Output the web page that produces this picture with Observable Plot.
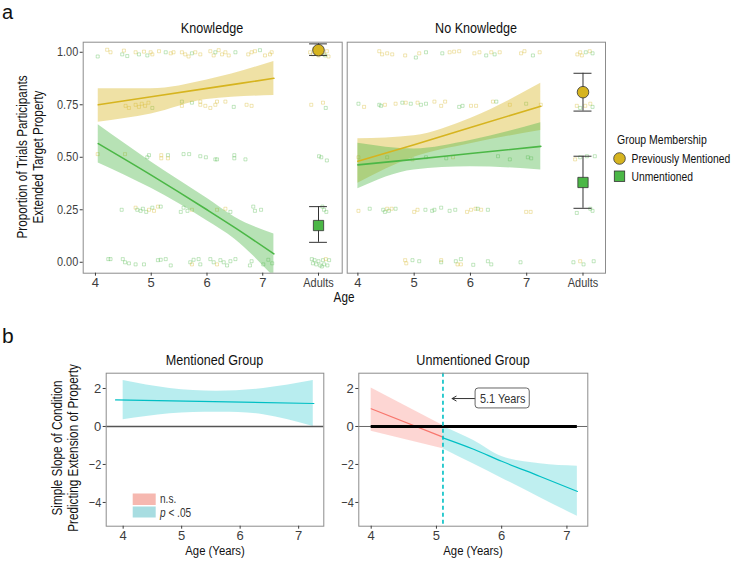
<!DOCTYPE html>
<html><head><meta charset="utf-8">
<script src="https://cdn.jsdelivr.net/npm/d3@7"></script>
<script src="https://cdn.jsdelivr.net/npm/@observablehq/plot@0.6"></script>
<style>
body{margin:0;background:#fff;}
#chart{position:relative;width:735px;height:561px;overflow:hidden;font-family:"Liberation Sans",Arial,sans-serif;}
.panel{position:absolute;}
.panel svg{overflow:visible;}
#overlay{position:absolute;left:0;top:0;pointer-events:none;}
</style></head><body><div id="chart"></div>
<script>
// ---------- data ----------
const conditions = ["Knowledge", "No Knowledge"];
const groupCodes = ["M", "U"];
const groupNames = ["Previously Mentioned", "Unmentioned"];
const ageTicks = [4, 5, 6, 7, 8];
const ageTickLabels = ["4", "5", "6", "7", "Adults"];
const adultPosition = 8;
const propTicks = [0, 0.25, 0.5, 0.75, 1];
const propTickLabels = ["0.00", "0.25", "0.50", "0.75", "1.00"];

// individual trial proportions (age, proportion incl. jitter, group)
const knowledgeTrials = [
[4.04,0.98,"U"],[4.21,1.012,"M"],[4.27,1.0,"M"],[4.48,0.99,"U"],[4.51,1.008,"M"],[4.57,0.982,"U"],[4.72,1.0,"M"],[4.78,0.99,"U"],[4.87,1.003,"M"],[4.93,0.985,"U"],[4.99,1.0,"M"],[5.02,0.99,"M"],[5.14,1.005,"M"],[5.26,1.0,"U"],[5.35,0.995,"M"],[5.40,1.0,"M"],[5.55,1.0,"M"],[5.61,0.99,"M"],[5.67,0.98,"M"],[5.73,0.995,"U"],[5.79,1.0,"M"],[5.88,0.99,"M"],[6.06,1.005,"M"],[6.12,0.985,"M"],[6.15,1.0,"U"],[6.21,1.01,"M"],[6.27,0.99,"M"],[6.33,1.0,"M"],[6.39,0.985,"M"],[6.51,1.0,"U"],[6.74,0.99,"M"],[6.80,1.0,"M"],[6.86,1.005,"M"],[6.95,1.01,"U"],[7.04,0.985,"M"],[7.13,0.99,"M"],[7.16,1.0,"M"],
[7.85,1.0,"M"],[7.9,0.99,"M"],[7.92,1.015,"M"],[7.95,1.005,"M"],[8.0,0.985,"M"],[8.05,1.0,"M"],[8.1,0.99,"M"],[8.12,0.985,"U"],[8.15,1.005,"M"],[8.18,0.98,"M"],
[4.54,0.745,"M"],[4.60,0.735,"M"],[4.72,0.75,"M"],[4.78,0.74,"M"],[4.83,0.755,"M"],[4.89,0.745,"M"],[4.95,0.76,"M"],[5.02,0.735,"U"],[5.55,0.765,"U"],[5.55,0.745,"M"],[5.73,0.76,"U"],[5.88,0.765,"M"],[5.88,0.75,"M"],[5.97,0.745,"M"],[6.06,0.735,"M"],[6.15,0.75,"M"],[6.18,0.765,"M"],[6.33,0.765,"M"],[6.48,0.74,"U"],[6.71,0.75,"M"],[6.80,0.745,"M"],[7.87,0.75,"M"],[8.08,0.76,"M"],[8.13,0.735,"U"],
[4.04,0.515,"M"],[4.53,0.515,"M"],[4.93,0.5,"U"],[4.96,0.51,"U"],[5.18,0.51,"M"],[5.18,0.495,"M"],[5.30,0.51,"U"],[5.30,0.495,"M"],[5.58,0.515,"U"],[5.68,0.515,"U"],[5.88,0.505,"U"],[5.98,0.5,"U"],[6.15,0.49,"U"],[6.18,0.49,"U"],[6.49,0.51,"U"],[6.49,0.495,"U"],[6.69,0.49,"U"],[8.01,0.505,"U"],[8.05,0.5,"U"],[8.15,0.485,"U"],
[4.47,0.25,"U"],[4.72,0.26,"M"],[4.75,0.25,"U"],[4.81,0.245,"U"],[4.85,0.255,"U"],[4.91,0.24,"U"],[4.96,0.25,"M"],[5.02,0.26,"U"],[5.05,0.245,"M"],[5.12,0.265,"M"],[5.17,0.265,"U"],[5.53,0.24,"U"],[5.58,0.26,"U"],[5.65,0.245,"U"],[5.73,0.25,"M"],[6.18,0.25,"M"],[6.33,0.255,"M"],[6.42,0.24,"U"],[6.83,0.265,"U"],[6.86,0.245,"U"],[6.97,0.25,"U"],[8.07,0.265,"U"],[8.10,0.25,"U"],[8.14,0.24,"U"],
[4.23,0.015,"U"],[4.27,0.015,"U"],[4.49,0.015,"U"],[4.53,0.0,"U"],[4.60,-0.005,"U"],[4.72,-0.01,"U"],[4.87,-0.01,"U"],[5.12,0.01,"U"],[5.17,0.012,"U"],[5.26,0.015,"U"],[5.35,-0.015,"U"],[5.70,0.0,"U"],[5.73,-0.01,"M"],[5.76,0.012,"U"],[5.85,0.015,"U"],[5.88,-0.01,"U"],[6.06,0.015,"U"],[6.12,0.0,"U"],[6.18,-0.01,"M"],[6.24,0.01,"U"],[6.30,0.0,"U"],[6.36,-0.015,"U"],[6.42,0.005,"U"],[6.51,0.015,"U"],[6.77,-0.015,"U"],[6.80,0.005,"U"],[7.01,-0.01,"U"],[7.10,0.012,"U"],[7.17,-0.005,"U"],
[7.88,0.015,"U"],[7.9,-0.005,"U"],[7.93,0.01,"U"],[7.96,-0.01,"U"],[8.0,0.005,"U"],[8.03,-0.015,"U"],[8.06,-0.02,"U"],[8.08,0.01,"U"],[8.1,-0.01,"U"],[8.13,0.015,"M"],[8.16,-0.015,"U"],[8.19,0.01,"U"]
];
const noKnowledgeTrials = [
[4.38,1.005,"M"],[4.43,0.99,"M"],[4.52,0.995,"M"],[4.61,0.99,"M"],[4.84,0.985,"M"],[5.03,0.975,"U"],[5.09,0.995,"M"],[5.21,1.0,"U"],[5.50,0.995,"U"],[5.63,1.0,"M"],[5.71,1.003,"M"],[5.80,1.005,"M"],[6.07,0.995,"M"],[6.16,1.0,"M"],[6.28,0.985,"U"],[6.37,1.0,"M"],[6.43,0.99,"U"],[6.52,1.0,"M"],[6.90,0.995,"M"],[6.96,1.005,"M"],[7.11,0.985,"U"],[7.23,1.0,"M"],[7.9,0.99,"M"],[7.95,1.0,"M"],[7.98,0.985,"M"],[8.05,1.0,"U"],[8.12,1.005,"M"],[8.17,0.995,"U"],
[4.01,0.755,"U"],[4.11,0.74,"M"],[4.38,0.75,"U"],[4.41,0.745,"U"],[4.48,0.75,"M"],[4.67,0.755,"M"],[4.79,0.76,"U"],[4.85,0.76,"M"],[4.94,0.755,"U"],[5.06,0.76,"M"],[5.12,0.75,"U"],[5.21,0.755,"U"],[5.36,0.765,"M"],[5.48,0.745,"M"],[5.55,0.765,"M"],[5.80,0.74,"U"],[5.86,0.745,"U"],[6.01,0.745,"M"],[6.10,0.745,"M"],[6.40,0.765,"M"],[6.46,0.765,"U"],[6.70,0.75,"M"],[6.99,0.755,"U"],[7.25,0.75,"M"],[7.89,0.745,"M"],[7.95,0.735,"U"],[8.04,0.745,"M"],[8.13,0.755,"M"],[8.17,0.74,"U"],
[4.01,0.5,"M"],[4.52,0.5,"U"],[4.97,0.49,"M"],[5.21,0.5,"U"],[5.57,0.495,"U"],[5.69,0.5,"M"],[6.49,0.505,"U"],[6.70,0.49,"U"],[7.02,0.5,"U"],[7.08,0.495,"U"],[7.86,0.49,"M"],[7.95,0.5,"U"],[8.07,0.505,"U"],[8.21,0.505,"U"],
[4.01,0.245,"M"],[4.21,0.255,"U"],[4.45,0.25,"U"],[4.48,0.24,"U"],[4.52,0.255,"M"],[4.55,0.245,"U"],[4.60,0.255,"M"],[4.67,0.255,"U"],[5.00,0.24,"M"],[5.06,0.25,"M"],[5.20,0.25,"U"],[5.32,0.245,"U"],[5.36,0.25,"U"],[5.48,0.26,"U"],[5.63,0.245,"U"],[5.73,0.25,"U"],[5.94,0.24,"M"],[6.01,0.25,"M"],[6.09,0.255,"M"],[6.13,0.255,"U"],[6.19,0.25,"M"],[6.31,0.25,"U"],[6.99,0.24,"M"],[7.07,0.24,"M"],[7.89,0.235,"U"],[8.13,0.255,"U"],[8.17,0.245,"U"],
[4.84,0.01,"M"],[4.86,-0.005,"M"],[4.97,0.01,"U"],[5.09,0.005,"U"],[5.48,0.0,"U"],[5.48,0.01,"M"],[5.74,0.005,"U"],[5.77,-0.01,"M"],[5.83,0.015,"U"],[5.83,-0.01,"M"],[6.05,-0.012,"U"],[6.31,0.005,"U"],[6.37,-0.01,"U"],[6.89,0.0,"U"],[7.83,0.0,"U"],[7.95,0.005,"M"],[8.01,-0.01,"U"],[8.19,0.005,"U"]
];

// model fits for children: [age, fit, lower, upper]
const knowledgeMentionedFit = [[4.05,0.75,0.667,0.826],[5,0.788,0.706,0.826],[6,0.828,0.775,0.868],[7.2,0.876,0.794,0.956]];
const knowledgeUnmentionedFit = [[4.05,0.565,0.473,0.655],[5,0.415,0.352,0.478],[6,0.25,0.198,0.305],[6.5,0.165,0.11,0.215],[7.2,0.04,-0.07,0.135]];
const noKnowledgeMentionedFit = [[4,0.481,0.376,0.588],[5,0.56,0.50,0.603],[6,0.642,0.565,0.685],[7.25,0.743,0.627,0.852]];
const noKnowledgeUnmentionedFit = [[4,0.464,0.35,0.567],[5,0.49,0.44,0.54],[6,0.518,0.455,0.58],[7.25,0.552,0.44,0.665]];

// adult means: [group, mean, lower, upper]
const knowledgeAdults = [["M",1.01,0.985,1.04],["U",0.175,0.095,0.265]];
const noKnowledgeAdults = [["M",0.81,0.72,0.90],["U",0.38,0.257,0.505]];

// panel b: simple slopes [age, slope, lower, upper]
const slopeTicks = [-4, -2, 0, 2];
const slopeAgeTicks = [4, 5, 6, 7];
const mentionedSlopeLine = [[3.87,1.40],[7.26,1.21]];
const mentionedSlopeBand = [[4,2.42,0.35],[4.8,2.0,0.67],[5.6,1.86,0.75],[6.4,2.0,0.62],[7.25,2.42,0.0]];
const unmentionedNonSig = [[4,0.93,-0.25,2.03],[5.1,-0.56,-1.17,0.05]];
const unmentionedSig = [[5.1,-0.6,-1.17,0.0],[5.57,-1.2,-1.98,-0.74],[6,-1.83,-2.72,-1.58],[6.59,-2.63,-3.75,-1.96],[7.16,-3.42,-4.73,-2.09]];
const zeroSpan = [4, 7.16];
const johnsonNeymanAge = 5.1;
const annotationText = "5.1 Years";
const annotationBox = [5.6, 6.43, 0.95, 2.0];   // x1, x2, y1, y2 in data units
const annotationArrow = [5.6, 5.24, 1.47];       // from x, to x, at y

// ---------- styling ----------
const FONT = '"Liberation Sans",Arial,sans-serif';
const CONDENSE = 0.84;
const GOLD = "#d6b41f", GREEN = "#4bb746", TEAL = "#00bfc4", PINK = "#f8766d";
const baseStyle = {fontFamily: FONT, fontSize: "13px", color: "#3d3d3d", background: "none", overflow: "visible"};
const chart = document.getElementById("chart");
function place(node, left, top) {
  const d = document.createElement("div");
  d.className = "panel"; d.style.left = left + "px"; d.style.top = top + "px";
  d.appendChild(node); chart.appendChild(d);
}
const fitRows = (arr, group) => arr.map(([age, fit, lo, hi]) => ({age, fit, lo, hi, group}));
const adultRows = arr => arr.map(([group, mean, lo, hi]) => ({group, mean, lo, hi}));
const CAP = 0.16;

function panelA({trials, fits, adults, width, marginLeft, marginRight, xDomain, showY}) {
  const marks = [
    Plot.dot(trials, {x: d => d[0], y: d => d[1], stroke: d => d[2], symbol: "square", r: 1.7, strokeWidth: 0.8, strokeOpacity: 0.42, fill: "none"}),
    Plot.areaY(fits, {x: "age", y1: "lo", y2: "hi", fill: "group", fillOpacity: 0.4, curve: "monotone-x", clip: true}),
    Plot.line(fits, {x: "age", y: "fit", stroke: "group", strokeWidth: 1.6, curve: "monotone-x", clip: true}),
    Plot.ruleX(adults, {x: () => adultPosition, y1: "lo", y2: "hi", stroke: "#333", strokeWidth: 1}),
    Plot.ruleY(adults, {y: "lo", x1: () => adultPosition - CAP, x2: () => adultPosition + CAP, stroke: "#333", strokeWidth: 1}),
    Plot.ruleY(adults, {y: "hi", x1: () => adultPosition - CAP, x2: () => adultPosition + CAP, stroke: "#333", strokeWidth: 1}),
    Plot.dot(adults, {x: () => adultPosition, y: "mean", fill: "group", symbol: "group", r: 5.8, stroke: "#333", strokeWidth: 0.8}),
    Plot.frame({stroke: "#8c8c8c"}),
    Plot.axisX({ticks: ageTicks, tickFormat: d => ageTickLabels[ageTicks.indexOf(d)], tickSize: 3, tickPadding: 2, fontSize: 13, label: null})
  ];
  if (showY) marks.push(Plot.axisY({ticks: propTicks, tickFormat: d => propTickLabels[propTicks.indexOf(d)], tickSize: 3, tickPadding: 2, fontSize: 13, label: null}));
  return Plot.plot({
    width, height: 300, marginLeft, marginRight, marginTop: 41.7, marginBottom: 27.3,
    x: {domain: xDomain, axis: null}, y: {domain: [-0.052, 1.048], axis: null},
    color: {domain: groupCodes, range: [GOLD, GREEN]},
    symbol: {domain: groupCodes, range: ["circle", "square"]},
    style: baseStyle, marks
  });
}

place(panelA({trials: knowledgeTrials,
  fits: [...fitRows(knowledgeMentionedFit, "M"), ...fitRows(knowledgeUnmentionedFit, "U")],
  adults: adultRows(knowledgeAdults), width: 345, marginLeft: 82.7, marginRight: 3.3, xDomain: [3.78, 8.425], showY: true}), 0, 0);
place(panelA({trials: noKnowledgeTrials,
  fits: [...fitRows(noKnowledgeMentionedFit, "M"), ...fitRows(noKnowledgeUnmentionedFit, "U")],
  adults: adultRows(noKnowledgeAdults), width: 265, marginLeft: 1.7, marginRight: 5, xDomain: [3.81, 8.40], showY: false}), 345, 0);

const slopeAxes = [
  Plot.axisX({ticks: slopeAgeTicks, tickFormat: d3.format("d"), tickSize: 3, tickPadding: 2, fontSize: 13, label: null}),
  Plot.axisY({ticks: slopeTicks, tickSize: 3, tickPadding: 2, fontSize: 13, label: null})
];
// Mentioned group
place(Plot.plot({
  width: 330, height: 231, marginLeft: 105.7, marginRight: 6.7, marginTop: 42.7, marginBottom: 35.3,
  x: {domain: [3.71, 7.43], axis: null}, y: {domain: [-5.25, 2.805], axis: null},
  style: baseStyle,
  marks: [
    Plot.areaY(mentionedSlopeBand, {x: d => d[0], y1: d => d[2], y2: d => d[1], fill: TEAL, fillOpacity: 0.28, curve: "natural"}),
    Plot.ruleY([0], {stroke: "#555", strokeWidth: 1.5}),
    Plot.line(mentionedSlopeLine, {x: d => d[0], y: d => d[1], stroke: TEAL, strokeWidth: 1.2}),
    Plot.frame({stroke: "#8c8c8c"}),
    ...slopeAxes
  ]
}), 0, 330);

// Unmentioned group
place(Plot.plot({
  width: 255, height: 231, marginLeft: 18.3, marginRight: 7.7, marginTop: 42.7, marginBottom: 35.3,
  x: {domain: [3.81, 7.32], axis: null}, y: {domain: [-5.25, 2.805], axis: null},
  style: baseStyle,
  marks: [
    Plot.areaY(unmentionedNonSig, {x: d => d[0], y1: d => d[2], y2: d => d[3], fill: PINK, fillOpacity: 0.3}),
    Plot.areaY(unmentionedSig, {x: d => d[0], y1: d => d[2], y2: d => d[3], fill: TEAL, fillOpacity: 0.25, curve: "monotone-x"}),
    Plot.ruleY([0], {stroke: "#666", strokeWidth: 1}),
    Plot.line(unmentionedNonSig, {x: d => d[0], y: d => d[1], stroke: PINK, strokeWidth: 1.2}),
    Plot.line(unmentionedSig, {x: d => d[0], y: d => d[1], stroke: TEAL, strokeWidth: 1.2, curve: "monotone-x"}),
    Plot.ruleY([0], {x1: zeroSpan[0], x2: zeroSpan[1], stroke: "#000", strokeWidth: 3.2}),
    Plot.ruleX([johnsonNeymanAge], {stroke: TEAL, strokeWidth: 1.6, strokeDasharray: "4,3"}),
    Plot.arrow([annotationArrow], {x1: d => d[0], x2: d => d[1], y1: d => d[2], y2: d => d[2], stroke: "#333", strokeWidth: 1, headLength: 7}),
    Plot.rect([annotationBox], {x1: d => d[0], x2: d => d[1], y1: d => d[2], y2: d => d[3], fill: "white", stroke: "#666", rx: 3}),
    Plot.text([annotationBox], {x: d => (d[0] + d[1]) / 2, y: d => (d[2] + d[3]) / 2, text: () => annotationText, fontSize: 13, fill: "#333"}),
    Plot.frame({stroke: "#8c8c8c"}),
    ...slopeAxes
  ]
}), 340, 330);

// condensed lettering inside the plots (reference uses a condensed sans face)
chart.querySelectorAll(".panel text").forEach(t => {
  if (t.textContent.length < 2) return;
  const L = t.getComputedTextLength();
  if (L > 0) { t.setAttribute("textLength", (L * CONDENSE).toFixed(2)); t.setAttribute("lengthAdjust", "spacingAndGlyphs"); }
});

// ---------- text overlay (titles, axis titles, legends) ----------
const NS = "http://www.w3.org/2000/svg";
const ov = document.createElementNS(NS, "svg");
ov.setAttribute("id", "overlay"); ov.setAttribute("width", 735); ov.setAttribute("height", 561);
ov.style.fontFamily = FONT;
function txt(s, x, y, opts = {}) {
  const t = document.createElementNS(NS, "text");
  t.setAttribute("x", 0); t.setAttribute("y", 0);
  t.setAttribute("font-size", opts.size || 14);
  t.setAttribute("fill", opts.fill || "#111");
  t.setAttribute("text-anchor", opts.anchor || "start");
  const sx = opts.noCondense ? 1 : CONDENSE;
  t.setAttribute("transform", `translate(${x},${y})${opts.rotate ? " rotate(-90)" : ""} scale(${sx},1)`);
  if (typeof s === "string") t.textContent = s; else s.forEach(([str, it]) => { const ts = document.createElementNS(NS, "tspan"); ts.textContent = str; if (it) ts.setAttribute("font-style", "italic"); t.appendChild(ts); });
  ov.appendChild(t); return t;
}
function shape(tag, attrs) { const e = document.createElementNS(NS, tag); for (const k in attrs) e.setAttribute(k, attrs[k]); ov.appendChild(e); }

txt("a", 2, 19, {size: 20, fill: "#111", noCondense: true});
txt("b", 2, 343, {size: 21, fill: "#111", noCondense: true});
txt(conditions[0], 212, 33, {size: 15, anchor: "middle"});
txt(conditions[1], 476, 33, {size: 15, anchor: "middle"});
txt("Age", 344, 302, {size: 14, anchor: "middle"});
txt("Proportion of Trials Participants", 27, 157, {size: 14, anchor: "middle", rotate: true});
txt("Extended Target Property", 43, 157, {size: 14, anchor: "middle", rotate: true});
txt("Group Membership", 617, 144, {size: 12.5});
shape("circle", {cx: 619.5, cy: 158.5, r: 5.8, fill: GOLD, stroke: "#333", "stroke-width": 0.8});
txt(groupNames[0], 631.5, 163, {size: 12.3});
shape("rect", {x: 614.3, y: 171, width: 10.4, height: 10.4, fill: GREEN, stroke: "#333", "stroke-width": 0.8});
txt(groupNames[1], 631.5, 181, {size: 12.3});

txt("Mentioned Group", 214.5, 364.5, {size: 15, anchor: "middle"});
txt("Unmentioned Group", 473, 364.5, {size: 15, anchor: "middle"});
txt("Age (Years)", 215, 555, {size: 13.5, anchor: "middle"});
txt("Age (Years)", 473, 555, {size: 13.5, anchor: "middle"});
txt("Simple Slope of Condition", 62, 448, {size: 14, anchor: "middle", rotate: true});
txt("Predicting Extension of Property", 78, 448, {size: 14, anchor: "middle", rotate: true});
shape("rect", {x: 132.7, y: 493.5, width: 23, height: 11.5, fill: "#f6b8b0"});
shape("rect", {x: 132.7, y: 506.5, width: 23, height: 11, fill: "#a8dde1"});
txt("n.s.", 160, 503, {size: 12, fill: "#333"});
txt([["p", true], [" < .05", false]], 160, 516.5, {size: 12, fill: "#333"});
chart.appendChild(ov);
</script></body></html>
